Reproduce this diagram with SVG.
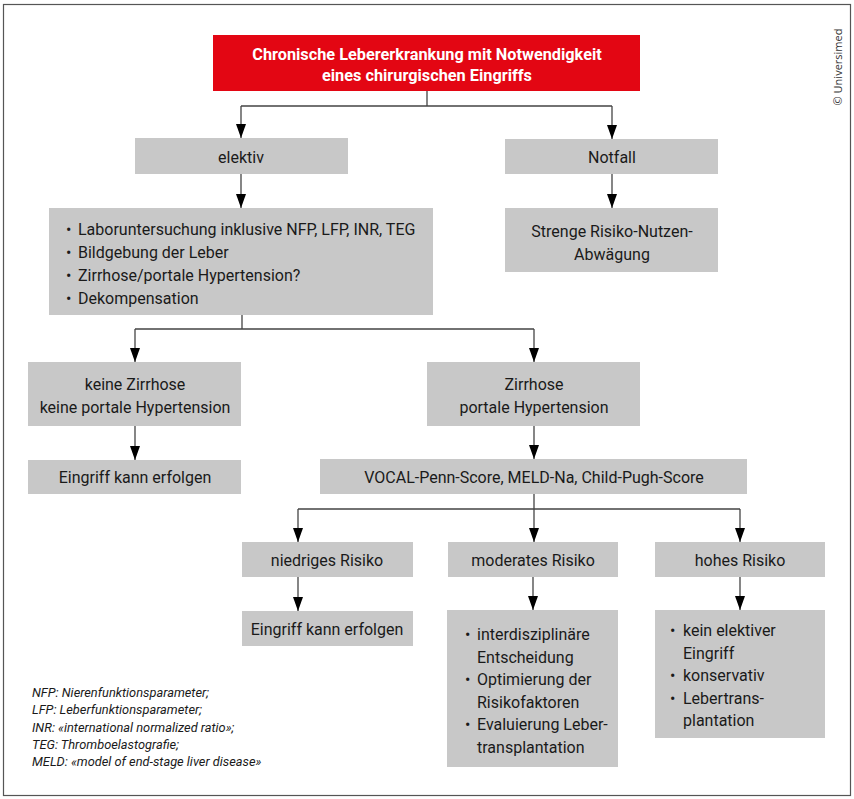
<svg xmlns="http://www.w3.org/2000/svg" width="854" height="799" viewBox="0 0 854 799">
<defs>
<marker id="ah" markerUnits="userSpaceOnUse" markerWidth="15" markerHeight="12" viewBox="0 0 15 12" refX="14" refY="6" orient="auto">
<path d="M0,1 L14,6 L0,11 Z" fill="#000"/>
</marker>
<style>
.box{fill:#c8c8c8;}
.t{font-family:Roboto,"Liberation Sans",sans-serif;font-size:16px;fill:#1a1a1a;}
.c{text-anchor:middle;}
.w{font-family:Roboto,"Liberation Sans",sans-serif;font-size:16.3px;font-weight:bold;fill:#fff;text-anchor:middle;}
.ln{fill:none;stroke:#444;stroke-width:1.3;}
.ar{fill:none;stroke:#444;stroke-width:1.3;marker-end:url(#ah);}
.fn{font-family:Roboto,"Liberation Sans",sans-serif;font-size:12.8px;font-style:italic;fill:#1a1a1a;}
</style>
</defs>
<rect x="0" y="0" width="854" height="799" fill="#fff"/>
<rect x="3.5" y="4.5" width="847" height="791" fill="none" stroke="#555" stroke-width="1.2"/>
<text transform="translate(842,67) rotate(-90)" text-anchor="middle" font-family="'Open Sans','Liberation Sans',sans-serif" font-size="11" fill="#333">© Universimed</text>

<g id="connectors">
<path class="ln" d="M427,91 V106 M241,106 H612"/>
<path class="ar" d="M241,106 V138"/>
<path class="ar" d="M612,106 V139"/>
<path class="ar" d="M241,174 V208"/>
<path class="ar" d="M612,174 V208"/>
<path class="ln" d="M242,315 V329 M135,329 H534"/>
<path class="ar" d="M135,329 V362"/>
<path class="ar" d="M534,329 V362"/>
<path class="ar" d="M135,426 V460"/>
<path class="ar" d="M534,426 V459"/>
<path class="ln" d="M534,494 V509 M298,509 H740"/>
<path class="ar" d="M298,509 V542"/>
<path class="ar" d="M534,509 V542"/>
<path class="ar" d="M740,509 V542"/>
<path class="ar" d="M298,577 V611"/>
<path class="ar" d="M533,577 V610"/>
<path class="ar" d="M740,577 V610"/>
</g>

<g id="n-top">
<rect x="213" y="35" width="427" height="56" fill="#e30613"/>
<text class="w" x="427" y="60">Chronische Lebererkrankung mit Notwendigkeit</text>
<text class="w" x="427" y="81">eines chirurgischen Eingriffs</text>
</g>
<g id="n-elektiv">
<rect class="box" x="135" y="138" width="213" height="36"/>
<text class="t c" x="241" y="163">elektiv</text>
</g>
<g id="n-notfall">
<rect class="box" x="505" y="139" width="213" height="35"/>
<text class="t c" x="612" y="163">Notfall</text>
</g>
<g id="n-strenge">
<rect class="box" x="505" y="208" width="213" height="64"/>
<text class="t c" x="612" y="237">Strenge Risiko-Nutzen-</text>
<text class="t c" x="612" y="260">Abwägung</text>
</g>
<g id="n-labor">
<rect class="box" x="49" y="208" width="384" height="107"/>
<text class="t" x="66" y="235">•</text><text class="t" x="78" y="235">Laboruntersuchung inklusive NFP, LFP, INR, TEG</text>
<text class="t" x="66" y="258">•</text><text class="t" x="78" y="258">Bildgebung der Leber</text>
<text class="t" x="66" y="281">•</text><text class="t" x="78" y="281">Zirrhose/portale Hypertension?</text>
<text class="t" x="66" y="304">•</text><text class="t" x="78" y="304">Dekompensation</text>
</g>
<g id="n-keine">
<rect class="box" x="28" y="362" width="213" height="64"/>
<text class="t c" x="135" y="390">keine Zirrhose</text>
<text class="t c" x="135" y="413">keine portale Hypertension</text>
</g>
<g id="n-zirrhose">
<rect class="box" x="427" y="362" width="213" height="64"/>
<text class="t c" x="534" y="390">Zirrhose</text>
<text class="t c" x="534" y="413">portale Hypertension</text>
</g>
<g id="n-eingriff1">
<rect class="box" x="28" y="460" width="213" height="34"/>
<text class="t c" x="135" y="483">Eingriff kann erfolgen</text>
</g>
<g id="n-vocal">
<rect class="box" x="320" y="459" width="427" height="35"/>
<text class="t c" x="534" y="483">VOCAL-Penn-Score, MELD-Na, Child-Pugh-Score</text>
</g>
<g id="n-niedrig">
<rect class="box" x="242" y="542" width="171" height="35"/>
<text class="t c" x="327" y="566">niedriges Risiko</text>
</g>
<g id="n-moderat">
<rect class="box" x="448" y="542" width="170" height="35"/>
<text class="t c" x="533" y="566">moderates Risiko</text>
</g>
<g id="n-hoch">
<rect class="box" x="655" y="542" width="170" height="35"/>
<text class="t c" x="740" y="566">hohes Risiko</text>
</g>
<g id="n-eingriff2">
<rect class="box" x="242" y="611" width="171" height="35"/>
<text class="t c" x="327" y="635">Eingriff kann erfolgen</text>
</g>
<g id="n-moderat-list">
<rect class="box" x="447" y="610" width="171" height="157"/>
<text class="t" x="465" y="640">•</text><text class="t" x="477" y="640">interdisziplinäre</text>
<text class="t" x="477" y="663">Entscheidung</text>
<text class="t" x="465" y="685">•</text><text class="t" x="477" y="685">Optimierung der</text>
<text class="t" x="477" y="708">Risikofaktoren</text>
<text class="t" x="465" y="730">•</text><text class="t" x="477" y="730">Evaluierung Leber-</text>
<text class="t" x="477" y="753">transplantation</text>
</g>
<g id="n-hoch-list">
<rect class="box" x="655" y="610" width="170" height="128"/>
<text class="t" x="670" y="636">•</text><text class="t" x="683" y="636">kein elektiver</text>
<text class="t" x="683" y="659">Eingriff</text>
<text class="t" x="670" y="681">•</text><text class="t" x="683" y="681">konservativ</text>
<text class="t" x="670" y="704">•</text><text class="t" x="683" y="704">Lebertrans-</text>
<text class="t" x="683" y="726">plantation</text>
</g>
<g id="footnote">
<text class="fn" x="32" y="697">NFP: Nierenfunktionsparameter;</text>
<text class="fn" x="32" y="714">LFP: Leberfunktionsparameter;</text>
<text class="fn" x="32" y="732">INR: «international normalized ratio»;</text>
<text class="fn" x="32" y="749">TEG: Thromboelastografie;</text>
<text class="fn" x="32" y="766">MELD: «model of end-stage liver disease»</text>
</g>
</svg>
